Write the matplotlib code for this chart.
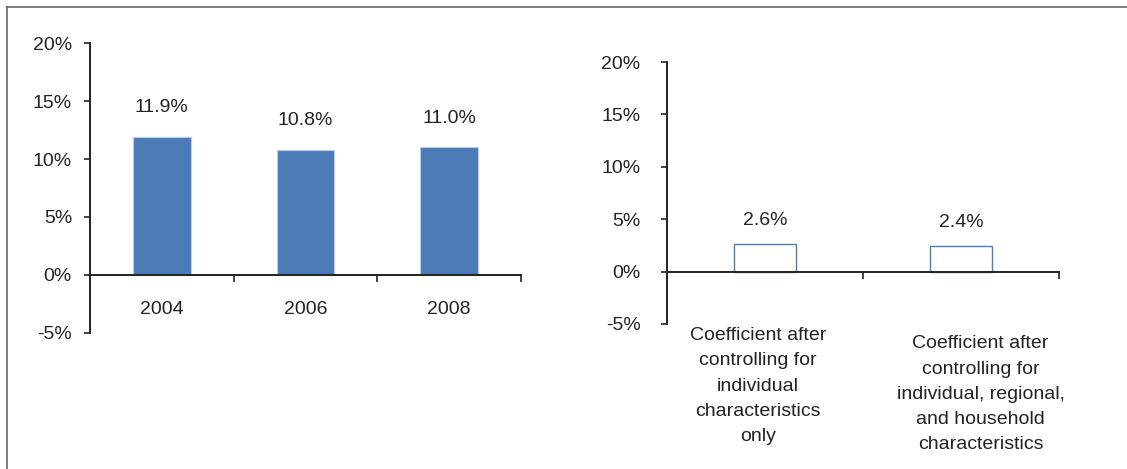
import matplotlib.pyplot as plt
from matplotlib.lines import Line2D

plt.rcParams['font.family'] = ['Liberation Sans', 'DejaVu Sans']

'''
data
'''
years = ['2004', '2006', '2008']
year_values = [11.9, 10.8, 11.0]
year_labels = ['11.9%', '10.8%', '11.0%']

coef_cats = ['Coefficient after\ncontrolling for\nindividual\ncharacteristics\nonly',
             'Coefficient after\ncontrolling for\nindividual, regional,\nand household\ncharacteristics']
coef_values = [2.6, 2.4]
coef_labels = ['2.6%', '2.4%']

yticks = [-5, 0, 5, 10, 15, 20]
ytick_labels = ['-5%', '0%', '5%', '10%', '15%', '20%']

blue = '#4A7BB7'
ink = '#222222'
fs = 14

fig = plt.figure(figsize=(11.27, 4.69), dpi=100)


def style_axis(ax, n, ypad):
    ax.set_ylim(-5, 20)
    ax.set_xlim(-0.5, n - 0.5)
    for s in ['top', 'right']:
        ax.spines[s].set_visible(False)
    ax.spines['bottom'].set_position(('data', 0))
    for s in ['left', 'bottom']:
        ax.spines[s].set_color(ink)
        ax.spines[s].set_linewidth(1.4)
    ax.set_yticks(yticks)
    ax.set_yticklabels(ytick_labels)
    ax.set_xticks([i - 0.5 for i in range(n + 1)])
    ax.set_xticklabels([])
    ax.tick_params(axis='y', direction='out', length=4, width=1.2, color=ink,
                   labelsize=fs, labelcolor=ink, pad=ypad)
    ax.tick_params(axis='x', direction='out', length=5, width=1.2, color=ink)


# left panel
ax1 = fig.add_axes([0.0799, 0.290, 0.3824, 0.6183])
style_axis(ax1, len(years), 9)
x1 = range(len(years))
ax1.bar(x1, year_values, width=0.4, color=blue, edgecolor='#B9CDE5', linewidth=0.8, zorder=1)
for i, (v, lab) in enumerate(zip(year_values, year_labels)):
    ax1.annotate(lab, (i, v), xytext=(0, 21), textcoords='offset points',
                 ha='center', va='center', fontsize=fs, color=ink)
for i, y in enumerate(years):
    ax1.annotate(y, (i, 0), xytext=(0, -25), textcoords='offset points',
                 ha='center', va='center', fontsize=fs, color=ink)

# right panel
ax2 = fig.add_axes([0.5918, 0.3092, 0.3479, 0.5586])
style_axis(ax2, len(coef_cats), 15)
x2 = range(len(coef_cats))
ax2.bar(x2, coef_values, width=0.32, color='white', edgecolor=blue, linewidth=1.0, zorder=1)
for i, (v, lab) in enumerate(zip(coef_values, coef_labels)):
    ax2.annotate(lab, (i, v), xytext=(0, 17), textcoords='offset points',
                 ha='center', va='center', fontsize=fs, color=ink)
label_dx = [-5, 14]
label_dy = [-40, -46]
for i, c in enumerate(coef_cats):
    ax2.annotate(c, (i, 0), xytext=(label_dx[i], label_dy[i]), textcoords='offset points',
                 ha='center', va='top', fontsize=fs, color=ink, linespacing=1.63)

# frame lines at top and left
fig.add_artist(Line2D([7 / 1127, 1], [1 - 7 / 469, 1 - 7 / 469], color='#666666', linewidth=1.2))
fig.add_artist(Line2D([7 / 1127, 7 / 1127], [0, 1 - 7 / 469], color='#666666', linewidth=1.2))

plt.savefig('out.png', dpi=100)
